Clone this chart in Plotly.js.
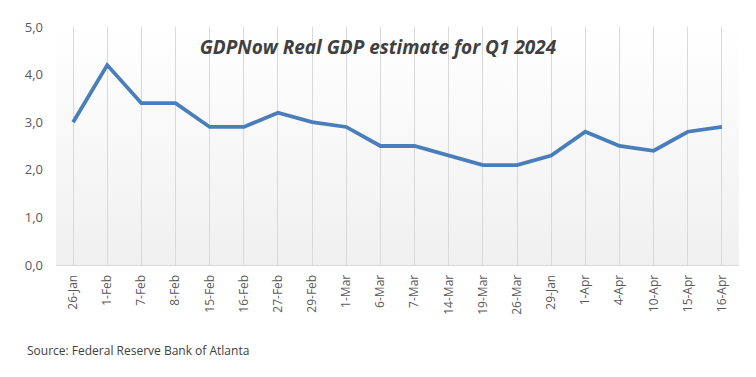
<!DOCTYPE html>
<html><head><meta charset="utf-8">
<script src="https://cdn.plot.ly/plotly-3.0.1.min.js"></script>
<style>html,body{margin:0;padding:0;background:#fff}#c{width:756px;height:377px}</style>
</head><body><div id="c"></div>
<script>
const categories = ["26-Jan","1-Feb","7-Feb","8-Feb","15-Feb","16-Feb","27-Feb","29-Feb","1-Mar","6-Mar","7-Mar","14-Mar","19-Mar","26-Mar","29-Jan","1-Apr","4-Apr","10-Apr","15-Apr","16-Apr"];
const gdpEstimate = [3.0,4.2,3.4,3.4,2.9,2.9,3.2,3.0,2.9,2.5,2.5,2.3,2.1,2.1,2.3,2.8,2.5,2.4,2.8,2.9];
const yTicks = [0,1,2,3,4,5];

const grad = 'data:image/svg+xml;utf8,' + encodeURIComponent(
 '<svg xmlns="http://www.w3.org/2000/svg" width="100" height="100" preserveAspectRatio="none"><defs><linearGradient id="g" x1="0" y1="0" x2="0" y2="1"><stop offset="0" stop-color="#ffffff"/><stop offset="1" stop-color="#f0f0f0"/></linearGradient></defs><rect width="100" height="100" fill="url(#g)"/></svg>');

const trace = {
  x: categories, y: gdpEstimate, type: 'scatter', mode: 'lines',
  line: {color: '#4a7ebb', width: 3.8}, hoverinfo: 'skip'
};
const layout = {
  width: 756, height: 377,
  margin: {l: 56, r: 17, t: 27, b: 112},
  paper_bgcolor: '#ffffff', plot_bgcolor: 'rgba(0,0,0,0)',
  separators: ',.',
  showlegend: false,
  font: {family: 'Open Sans, sans-serif', color: '#595959', size: 12},
  title: {text: '<b><i>GDPNow Real GDP estimate for Q1 2024</i></b>', x: 0.5, xanchor: 'center', y: 0.875, yanchor: 'middle', yref: 'container',
          font: {family: 'Open Sans, sans-serif', size: 19, color: '#404040'}},
  xaxis: {type: 'category', range: [-0.5, 19.5], showgrid: true, gridcolor: '#d9d9d9', gridwidth: 1,
          tickangle: -90, ticks: '', showline: true, linecolor: '#d9d9d9', linewidth: 1,
          tickfont: {size: 12, color: '#595959'}, ticklabelstandoff: 4, zeroline: false},
  yaxis: {range: [0, 5], tickvals: yTicks, tickformat: '.1f', showgrid: false, zeroline: false,
          showline: false, ticks: '', tickfont: {size: 13, color: '#595959'}, ticklabelstandoff: 12},
  images: [{source: grad, xref: 'paper', yref: 'paper', x: 0, y: 1, sizex: 1, sizey: 1, sizing: 'stretch', layer: 'below', xanchor: 'left', yanchor: 'top'}],
  annotations: [{text: 'Source: Federal Reserve Bank of Atlanta', xref: 'paper', yref: 'paper', x: -0.045, y: -0.36,
                 xanchor: 'left', yanchor: 'middle', showarrow: false, font: {size: 12, color: '#404040'}}]
};
Plotly.newPlot('c', [trace], layout, {displayModeBar: false, staticPlot: true});
</script></body></html>
